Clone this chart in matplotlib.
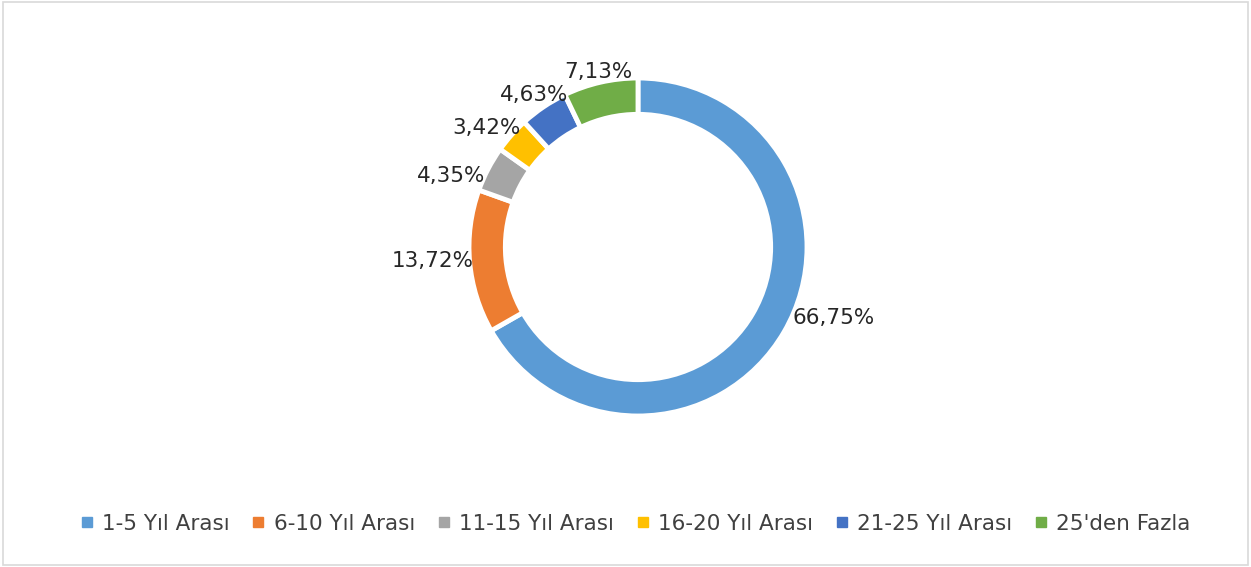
import numpy as np
import matplotlib
matplotlib.use("Agg")
import matplotlib.pyplot as plt
from matplotlib.lines import Line2D
from matplotlib.patches import Rectangle

categories = ["1-5 Yıl Arası", "6-10 Yıl Arası", "11-15 Yıl Arası",
              "16-20 Yıl Arası", "21-25 Yıl Arası", "25'den Fazla"]
shares = [66.75, 13.72, 4.35, 3.42, 4.63, 7.13]
colors = ["#5B9BD5", "#ED7D31", "#A5A5A5", "#FFC000", "#4472C4", "#70AD47"]

# label placement nudges (radius in ring units, angle shift in degrees)
label_r = [1.23, 1.22, 1.18, 1.14, 1.09, 1.06]
label_dtheta = [10.3, -1.0, 6.8, 3.5, 0.3, 0.0]

W, H = 1251, 567
fig = plt.figure(figsize=(W / 100, H / 100), dpi=100)
plt.rcParams['font.family'] = ['DejaVu Sans']

# donut centre (638, 247) px, radius 169 px
cx, cy, R = 638, 247, 169
ax = fig.add_axes([(cx - R) / W, (H - cy - R) / H, 2 * R / W, 2 * R / H])

wedges, _ = ax.pie(shares, colors=colors, startangle=90, counterclock=False,
                   radius=1.0,
                   wedgeprops=dict(width=0.215, edgecolor="white", linewidth=3.5))
ax.set_xlim(-1, 1)
ax.set_ylim(-1, 1)
ax.set_axis_off()

for w, s, r, dt in zip(wedges, shares, label_r, label_dtheta):
    theta = np.deg2rad((w.theta1 + w.theta2) / 2 + dt)
    ax.text(r * np.cos(theta), r * np.sin(theta), f"{s:.2f}%".replace(".", ","),
            ha="center", va="center", fontsize=15.5, color="#262626", clip_on=False)

handles = [Line2D([], [], marker="s", linestyle="none", markersize=7.5,
                  markerfacecolor=c, markeredgecolor=c) for c in colors]
fig.legend(handles, categories, loc="center", bbox_to_anchor=(636 / W, 1 - 524 / H),
           ncol=6, frameon=False, fontsize=15.5, handlelength=0.5, handletextpad=0.45,
           columnspacing=1.1, labelcolor="#404040")

fig.add_artist(Rectangle((0.002, 0.003), 0.996, 0.994, transform=fig.transFigure,
                         fill=False, edgecolor="#D9D9D9", linewidth=1.2))

fig.savefig("out.png", dpi=100)
